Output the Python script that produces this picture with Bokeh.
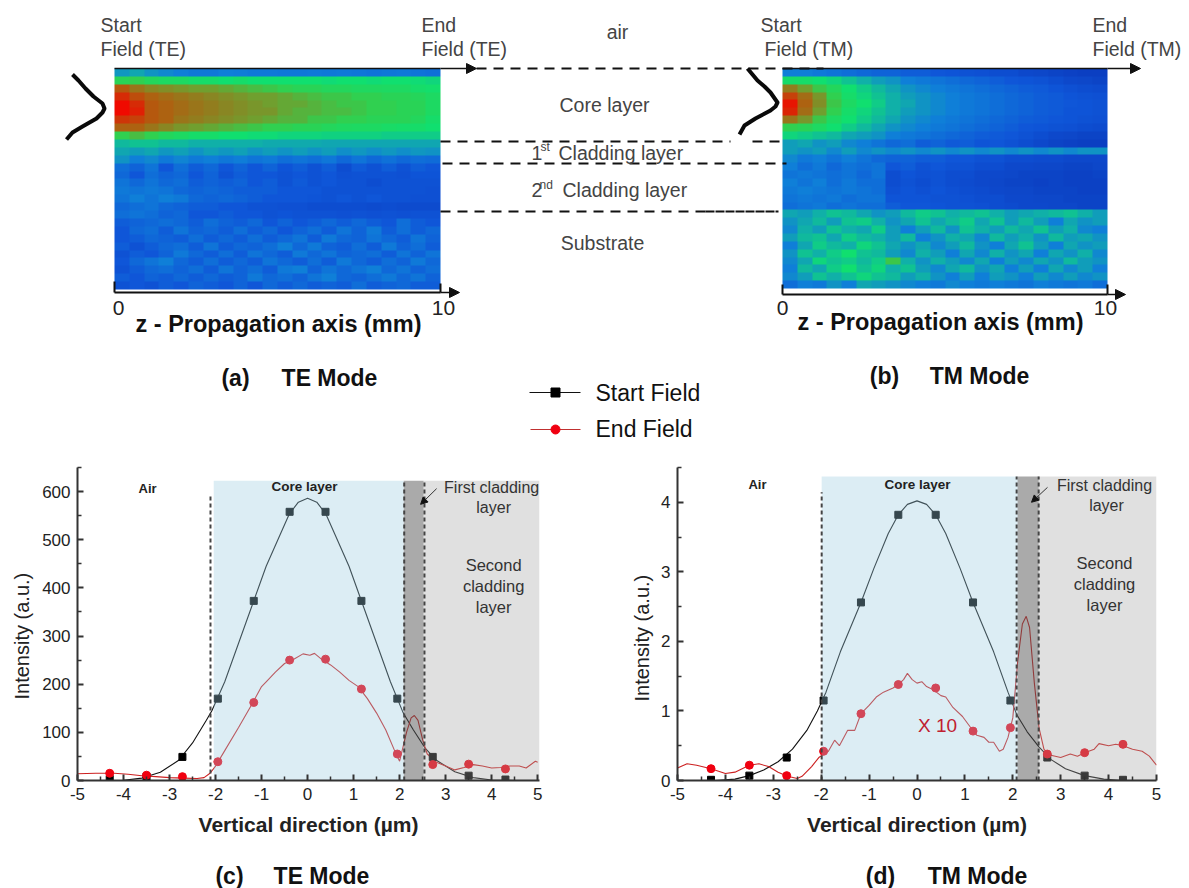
import numpy as np
from bokeh.plotting import figure
from bokeh.layouts import column, row
from bokeh.embed import file_html
from bokeh.resources import INLINE
from bokeh.models import (Range1d, FixedTicker, Label, Arrow, NormalHead, LinearColorMapper, Title)
from bokeh.core.properties import value

FONT = "Liberation Sans"

# ---------- data ----------
marker_x = [-4.3, -3.5, -2.72, -1.95, -1.17, -0.39, 0.39, 1.17, 1.95, 2.72, 3.5, 4.3]

te_start_marks = [3, 8, 49, 170, 373, 558, 558, 373, 170, 49, 10, 2]
te_end_marks = [15, 11, 8, 39, 162, 250, 252, 190, 55, 33, 34, 24]
tm_start_marks = [0.01, 0.07, 0.33, 1.15, 2.56, 3.82, 3.82, 2.56, 1.15, 0.33, 0.07, 0.01]
tm_end_marks = [0.17, 0.22, 0.07, 0.42, 0.96, 1.38, 1.33, 0.71, 0.76, 0.38, 0.40, 0.52]

te_start_x = [-4.4, -4.0, -3.6, -3.2, -2.8, -2.5, -2.2, -2.08, -1.8, -1.5, -1.2, -0.9, -0.6, -0.4, -0.2, 0, 0.2, 0.4, 0.6, 0.9, 1.2, 1.5, 1.8, 2.08, 2.3, 2.55, 2.8, 3.2, 3.6, 4.0, 4.5]
te_start_y = [0, 0.5, 5, 17, 42, 78, 125, 145, 205, 285, 365, 445, 510, 553, 578, 586, 578, 553, 510, 445, 365, 285, 205, 140, 105, 68, 42, 18, 6, 1, 0]

te_end_x = [-5, -4.6, -4.2, -3.9, -3.6, -3.3, -3, -2.7, -2.4, -2.25, -2.12, -2.0, -1.8, -1.5, -1.2, -1.0, -0.9, -0.7, -0.5, -0.3, -0.1, 0.05, 0.15, 0.3, 0.5, 0.7, 0.9, 1.1, 1.3, 1.5, 1.7, 1.9, 2.0, 2.15, 2.25, 2.32, 2.4, 2.5, 2.6, 2.8, 3.0, 3.2, 3.4, 3.6, 3.8, 4.0, 4.2, 4.4, 4.6, 4.75, 4.95, 5.0]
te_end_y = [14, 15, 15, 13, 10, 8, 6, 5, 4, 6, 15, 30, 62, 110, 160, 195, 205, 225, 243, 252, 263, 260, 264, 252, 240, 225, 208, 195, 170, 140, 105, 60, 40, 100, 130, 135, 125, 85, 55, 38, 30, 22, 27, 33, 30, 26, 27, 30, 30, 26, 40, 38]

tm_start_x = [-4.2, -3.8, -3.5, -3.2, -2.9, -2.6, -2.3, -2.08, -1.9, -1.6, -1.17, -0.9, -0.6, -0.39, -0.2, 0, 0.2, 0.39, 0.6, 0.9, 1.17, 1.6, 1.9, 2.08, 2.3, 2.55, 2.8, 3.1, 3.5, 3.9, 4.3, 5.0]
tm_start_y = [0, 0.02, 0.07, 0.15, 0.27, 0.45, 0.72, 1.0, 1.27, 1.85, 2.56, 3.05, 3.55, 3.82, 3.97, 4.02, 3.97, 3.82, 3.55, 3.05, 2.56, 1.85, 1.27, 0.95, 0.7, 0.48, 0.3, 0.17, 0.07, 0.02, 0, 0]

tm_end_x = [-5, -4.8, -4.6, -4.3, -4.0, -3.8, -3.5, -3.3, -3.1, -2.9, -2.7, -2.5, -2.4, -2.2, -2.05, -1.85, -1.72, -1.62, -1.45, -1.3, -1.17, -1.0, -0.85, -0.7, -0.5, -0.39, -0.28, -0.2, -0.1, 0, 0.1, 0.2, 0.35, 0.5, 0.6, 0.75, 0.95, 1.1, 1.25, 1.4, 1.5, 1.6, 1.72, 1.8, 1.9, 2.0, 2.1, 2.2, 2.28, 2.35, 2.45, 2.55, 2.65, 2.75, 3.0, 3.2, 3.35, 3.5, 3.7, 3.8, 4.0, 4.15, 4.3, 4.5, 4.7, 4.85, 5.0]
tm_end_y = [0.18, 0.24, 0.22, 0.17, 0.10, 0.12, 0.22, 0.24, 0.20, 0.12, 0.06, 0.03, 0.06, 0.20, 0.33, 0.42, 0.58, 0.50, 0.72, 0.72, 0.96, 1.08, 1.20, 1.27, 1.33, 1.38, 1.45, 1.54, 1.45, 1.40, 1.42, 1.35, 1.30, 1.22, 1.20, 1.05, 0.92, 0.78, 0.65, 0.62, 0.55, 0.55, 0.42, 0.45, 0.62, 0.90, 1.70, 2.25, 2.36, 2.20, 1.40, 0.75, 0.45, 0.37, 0.33, 0.38, 0.35, 0.40, 0.45, 0.53, 0.50, 0.52, 0.50, 0.45, 0.42, 0.35, 0.22]

x_ticks = [-5, -4, -3, -2, -1, 0, 1, 2, 3, 4, 5]
x_minor = [-4.5, -3.5, -2.5, -1.5, -0.5, 0.5, 1.5, 2.5, 3.5, 4.5]
te_y_ticks = [0, 100, 200, 300, 400, 500, 600]
te_y_minor = [50, 150, 250, 350, 450, 550, 650]
tm_y_ticks = [0, 1, 2, 3, 4]
tm_y_minor = [0.5, 1.5, 2.5, 3.5, 4.5]

te_field = [
 [35,38,34,32,30,28,28,30,29,28,28,27,27,28,27,28,27,26,27,28,26,25],
 [58,60,56,54,54,52,52,50,52,50,50,50,50,50,49,50,50,49,50,50,49,48],
 [86,80,76,74,72,70,70,68,66,64,62,60,58,58,56,56,55,55,54,54,52,51],
 [94,88,84,82,80,78,76,74,72,70,70,68,66,64,62,62,60,60,58,58,57,54],
 [100,94,86,84,82,80,78,76,74,72,70,68,68,66,64,62,62,60,60,58,58,54],
 [100,96,86,84,82,80,78,76,74,72,72,68,66,66,64,64,62,60,60,58,58,54],
 [92,90,86,84,80,78,76,74,72,70,68,66,66,62,62,60,60,58,58,58,56,52],
 [84,84,80,76,72,70,68,66,64,62,60,60,58,58,56,55,54,54,53,52,52,50],
 [60,64,60,56,54,52,52,50,50,49,49,48,48,48,47,47,47,47,46,46,46,46],
 [42,44,44,42,42,40,40,40,40,40,39,39,39,39,38,38,38,38,38,38,38,38],
 [38,36,38,35,37,34,37,35,37,34,36,34,36,34,36,33,35,33,35,33,35,34],
 [34,30,32,28,31,28,30,27,29,26,28,24,26,24,27,22,26,22,25,22,24,23],
 [24,20,26,16,24,18,22,16,20,16,20,15,18,14,18,12,17,14,18,14,18,16],
 [22,16,24,20,22,16,20,14,18,16,16,14,16,14,16,13,14,14,14,13,15,15],
 [26,22,26,22,24,18,20,18,20,16,18,14,17,14,16,14,14,12,14,14,14,14],
 [28,26,28,26,22,20,22,20,18,18,18,16,16,16,14,14,14,14,14,14,14,13],
 [26,30,26,30,28,22,20,22,20,18,16,16,16,15,14,16,14,16,14,14,13,13],
 [22,24,26,22,20,18,18,16,16,14,14,13,13,12,12,12,12,11,12,11,11,11],
 [24,26,24,20,22,16,16,18,16,16,14,15,14,14,14,13,14,13,14,13,14,14],
 [18,20,22,24,22,18,24,20,18,22,16,20,16,18,22,18,22,18,16,24,18,16],
 [16,22,24,18,26,20,22,18,24,18,22,16,20,24,18,26,20,28,18,24,18,22],
 [16,18,22,20,18,24,18,22,18,24,18,22,26,18,28,22,20,26,22,18,26,20],
 [18,14,18,22,24,18,26,18,22,20,24,30,22,28,20,18,24,18,28,20,24,18],
 [14,18,16,20,28,22,18,24,18,26,22,18,28,22,26,20,22,24,18,26,20,26],
 [16,22,26,30,22,18,24,18,22,18,26,22,18,24,18,28,22,18,24,20,28,22],
 [14,18,22,24,20,24,18,26,20,24,18,28,30,20,26,22,26,30,22,26,20,24],
 [18,16,20,18,22,18,22,18,20,28,22,24,20,26,30,22,20,24,28,22,26,20],
 [14,16,14,18,16,20,18,16,20,16,22,18,22,18,20,18,24,18,20,22,18,18],
]

tm_field = [
 [30,30,28,26,24,22,20,20,18,18,16,15,14,13,12,12,10,9,8,7,6,6],
 [52,52,50,48,44,40,36,34,30,28,26,24,22,20,18,16,15,14,12,10,9,8],
 [78,70,62,56,50,46,42,38,34,32,30,28,26,24,22,20,18,17,15,13,12,11],
 [90,82,72,60,52,48,44,40,36,34,32,30,28,26,24,22,20,18,17,15,14,13],
 [98,84,74,62,54,50,46,40,38,34,32,30,28,26,24,22,20,18,17,16,15,14],
 [95,82,70,60,52,48,44,40,36,34,32,30,28,26,24,22,20,18,17,15,15,14],
 [80,72,62,54,50,46,42,38,34,32,30,28,26,24,22,20,18,17,16,15,14,13],
 [60,58,54,50,46,42,38,34,32,30,28,26,24,22,20,18,16,15,14,13,12,11],
 [48,46,44,42,38,36,34,30,28,26,24,22,20,18,17,16,14,12,10,9,8,8],
 [36,38,34,36,32,30,26,22,24,18,20,17,18,15,16,14,12,10,8,7,6,6],
 [36,34,36,32,36,32,34,32,34,32,34,32,34,32,34,32,34,32,34,32,34,34],
 [32,28,30,26,30,26,22,20,20,18,18,16,16,14,14,12,12,11,11,10,10,10],
 [30,24,28,22,26,24,26,16,18,14,16,14,14,12,12,10,10,9,9,8,8,9],
 [26,28,26,24,26,22,26,12,15,13,14,12,12,10,10,9,8,8,8,7,7,8],
 [30,26,30,24,28,24,24,12,14,12,14,12,11,10,9,8,8,7,8,7,7,7],
 [28,30,28,26,28,26,24,13,15,13,15,13,12,11,10,9,9,8,8,8,7,7],
 [26,28,26,28,24,26,26,15,15,15,14,14,13,12,12,10,10,9,9,8,8,8],
 [24,26,28,24,26,24,24,18,16,16,15,14,14,13,12,11,10,10,9,9,8,8],
 [38,36,40,44,42,38,34,36,42,46,44,40,42,44,40,36,38,40,42,44,40,36],
 [34,38,42,36,44,46,40,34,38,44,38,42,46,38,44,36,42,36,30,38,34,36],
 [32,40,36,44,40,38,46,36,30,36,42,34,44,40,36,42,38,44,36,40,32,30],
 [36,42,44,38,46,42,40,36,42,30,34,40,38,32,42,36,40,34,42,36,38,34],
 [30,38,46,42,40,48,44,38,34,38,32,36,42,34,30,38,44,36,30,38,34,36],
 [34,44,40,46,50,44,42,36,32,40,36,30,38,32,40,34,38,30,38,34,40,32],
 [32,38,48,44,46,42,46,62,40,34,40,36,32,38,30,36,32,38,34,42,36,34],
 [30,42,38,46,50,44,48,40,44,36,32,38,42,34,38,30,36,30,38,32,36,30],
 [32,36,44,40,44,48,44,42,36,40,34,30,36,30,36,34,30,36,32,36,32,34],
 [24,30,28,34,30,38,36,34,32,30,28,32,30,28,30,28,26,30,28,26,28,24],
]

# ---------- colour scale ----------
stops = [0, 15, 30, 40, 50, 60, 70, 85, 100]
rgb = [(10,50,180),(15,85,216),(16,128,216),(16,176,168),(16,224,112),(48,208,80),(112,160,48),(176,96,16),(240,10,0)]
lv = np.arange(256) / 255 * 100
pal = ["#%02x%02x%02x" % tuple(int(np.interp(v, stops, [c[k] for c in rgb])) for k in range(3)) for v in lv]
mapper = LinearColorMapper(palette=pal, low=0, high=100)

# ---------- top panel: page-position coordinates ----------
TOP_B = 440
STRIP_B = 888
def Y(r):
    return TOP_B - r

top = figure(width=1189, height=440, x_range=Range1d(0, 1189), y_range=Range1d(0, 440),
             output_backend="svg", toolbar_location=None, min_border=0, outline_line_color=None)
top.axis.visible = False
top.grid.visible = False

def T(p, x, y, s, size=19.5, color="#444444", bold=False, align="left", base=TOP_B):
    p.text(x=[x], y=[base - y], text=[s], text_font=value(FONT), text_font_size=f"{size}px",
           text_color=color, text_align=align, text_baseline="middle",
           text_font_style="bold" if bold else "normal")

top.image(image=[np.array(te_field)[::-1]], x=114, y=Y(289), dw=326, dh=221, color_mapper=mapper)
top.image(image=[np.array(tm_field)[::-1]], x=782, y=Y(288), dw=325, dh=220, color_mapper=mapper)

def line(x0, y0, x1, y1, w=1.5, dash="solid"):
    top.line([x0, x1], [Y(y0), Y(y1)], line_color="#111111", line_width=w, line_dash=dash)

def arrow(x0, y0, x1, y1):
    top.add_layout(Arrow(end=NormalHead(size=10, fill_color="#111111", line_color="#111111"),
                         x_start=x0, y_start=Y(y0), x_end=x1, y_end=Y(y1),
                         line_color="#111111", line_width=1.5))

# axes drawn by hand round the field maps
line(114, 68, 440, 68)
arrow(440, 68, 476, 68)
line(782, 68, 1107, 68)
arrow(1107, 68, 1140, 68)
line(114, 292, 440, 292, 2)
line(114, 281, 114, 292, 2)
line(440, 283, 440, 292, 2)
arrow(440, 292, 459, 292)
line(782, 294, 1107, 294, 2)
line(782, 284, 782, 294, 2)
line(1107, 284, 1107, 294, 2)
arrow(1107, 294, 1125, 294)

# layer boundaries
D = "10 7"
line(476, 68, 823, 68, 2, D)
line(440, 141, 730, 141, 2, D)
line(752, 141, 782, 141, 2, D)
line(442, 163, 786, 163, 2, D)
line(440, 211, 705, 211, 2, D)
line(705, 211, 778, 211, 2, "9 1")

# launch-field sketches
bx = [72, 78, 85, 93, 102, 104, 102, 96, 82, 72, 66]
by = [74, 80, 88, 96, 103, 108, 112, 118, 126, 132, 139]
top.line(bx, [Y(v) for v in by], line_color="#0a0a0a", line_width=4, line_join="round")
bx2 = [747, 752, 757, 764, 770, 777, 775, 770, 755, 744, 739]
by2 = [68, 74, 80, 86, 92, 102, 106, 110, 118, 125, 134]
top.line(bx2, [Y(v) for v in by2], line_color="#0a0a0a", line_width=4, line_join="round")

# legend
top.line([529, 580], [Y(392), Y(392)], line_color="#111111", line_width=1.2)
top.scatter([555], [Y(392)], marker="square", size=9, fill_color="#000000", line_color="#000000")
top.line([530, 580], [Y(429), Y(429)], line_color="#c03030", line_width=1.2)
top.scatter([555], [Y(429)], marker="circle", size=9, fill_color="#f00010", line_color="#f00010")
T(top, 595, 392, "Start Field", 23, "#111111")
T(top, 595, 428, "End Field", 23, "#111111")

T(top, 100, 24, "Start")
T(top, 100, 48, "Field (TE)")
T(top, 421, 24, "End")
T(top, 421, 48, "Field (TE)")
T(top, 760, 24, "Start")
T(top, 764, 48, "Field (TM)")
T(top, 1092, 24, "End")
T(top, 1092, 48, "Field (TM)")
T(top, 617, 31, "air", align="center")
T(top, 604, 104, "Core layer", align="center")
T(top, 531, 152, "1")
T(top, 540, 146, "st", 12)
T(top, 558, 152, "Cladding layer")
T(top, 531, 189, "2")
T(top, 539, 184, "nd", 12)
T(top, 562, 189, "Cladding layer")
T(top, 602, 242, "Substrate", align="center")
T(top, 118, 307, "0", 21, "#222222", align="center")
T(top, 443, 307, "10", 21, "#222222", align="center")
T(top, 782, 307, "0", 21, "#222222", align="center")
T(top, 1105, 307, "10", 21, "#222222", align="center")
T(top, 278, 323, "z - Propagation axis (mm)", 23.5, "#111111", True, "center")
T(top, 940, 321, "z - Propagation axis (mm)", 23.5, "#111111", True, "center")
T(top, 235, 377, "(a)", 23, "#111111", True, "center")
T(top, 329, 377, "TE Mode", 23, "#111111", True, "center")
T(top, 884, 375, "(b)", 23, "#111111", True, "center")
T(top, 979, 375, "TM Mode", 23, "#111111", True, "center")

# ---------- lower panels ----------
def panel(width, left, right, top_b, bottom, xr, yr, yticks, yminor, yl_offset, yl_standoff,
          sx, sy, start, end, start_m, end_m, blue, dark, light, shade_top,
          dash_xs, air, core, first, second, arr):
    xf, yf = sx, sy
    p = figure(width=width, height=408, x_range=Range1d(*xr), y_range=Range1d(*yr),
               output_backend="svg", toolbar_location=None, outline_line_color=None,
               min_border_left=left, min_border_right=right, min_border_top=top_b, min_border_bottom=bottom)
    p.grid.visible = False
    ax = p.xaxis[0]
    ax.ticker = FixedTicker(ticks=x_ticks, minor_ticks=x_minor)
    ax.major_label_overrides = {t: str(t) for t in x_ticks}
    ax.axis_label = "Vertical direction (µm)"
    ax.axis_label_text_font = FONT
    ax.axis_label_text_font_size = "21px"
    ax.axis_label_text_font_style = "bold"
    ax.axis_label_text_color = "#222222"
    ax.axis_label_standoff = 10
    ay = p.yaxis[0]
    ay.ticker = FixedTicker(ticks=yticks, minor_ticks=yminor)
    for a in (ax, ay):
        a.axis_line_color = "#333333"
        a.axis_line_width = 2
        a.major_tick_line_color = "#333333"
        a.major_tick_line_width = 2
        a.minor_tick_line_color = "#333333"
        a.minor_tick_line_width = 1.5
        a.major_tick_in = 6
        a.major_tick_out = 0
        a.minor_tick_in = 4
        a.minor_tick_out = 0
        a.major_label_text_font = FONT
        a.major_label_text_font_size = "17px"
        a.major_label_text_color = "#222222"
        a.major_label_standoff = 7
    p.add_layout(Title(text="Intensity (a.u.)", align="left", offset=yl_offset, standoff=yl_standoff,
                       text_font=FONT, text_font_size="20px", text_font_style="normal",
                       text_color="#222222"), "left")

    p.line(start[0], start[1], line_color="#111111", line_width=1.1)
    p.line(end[0], end[1], line_color="#cc2020", line_width=1.1)
    p.scatter(marker_x, start_m, marker="square", size=7, fill_color="#000000", line_color="#000000")
    p.scatter(marker_x, end_m, marker="circle", size=8, fill_color="#f00010", line_color="#f00010")

    p.quad(left=[blue[0]], right=[blue[1]], bottom=[yr[0]], top=[shade_top],
           fill_color="#9bcce0", fill_alpha=0.35, line_color=None)
    p.quad(left=[dark[0]], right=[dark[1]], bottom=[yr[0]], top=[shade_top],
           fill_color="#555555", fill_alpha=0.5, line_color=None)
    p.quad(left=[light[0]], right=[light[1]], bottom=[yr[0]], top=[shade_top],
           fill_color="#a6a6a6", fill_alpha=0.35, line_color=None)
    for x_, t_ in dash_xs:
        p.line([x_, x_], [yr[0], t_], line_color="#444444", line_width=2, line_dash="4 3")

    def L(px, py, s, size, bold=False, color="#222222"):
        p.add_layout(Label(x=xf(px), y=yf(py), text=s, text_font=FONT, text_font_size=f"{size}px",
                           text_color=color, text_align="center", text_baseline="middle",
                           text_font_style="bold" if bold else "normal"))

    L(air[0], air[1], "Air", 13, True)
    L(core[0], core[1], "Core layer", 13.5, True)
    L(first[0], first[1], "First cladding", 16, color="#333333")
    L(first[0] + 2, first[1] + 20, "layer", 16, color="#333333")
    for k, s in enumerate(["Second", "cladding", "layer"]):
        L(second[0], second[1] + 21 * k, s, 16.5, color="#333333")
    p.add_layout(Arrow(end=NormalHead(size=7, fill_color="#111111", line_color="#111111"),
                       x_start=xf(arr[0]), y_start=yf(arr[1]), x_end=xf(arr[2]), y_end=yf(arr[3]),
                       line_color="#333333", line_width=1))
    return p, L

c_x = lambda px: (px - 77) / 46 - 5
c_y = lambda py: (780 - py) / 0.49
d_x = lambda px: (px - 677) / 47.9 - 5
d_y = lambda py: (782 - py) / 70

c, _ = panel(590, 77, 51, 22, 68, (-5, 5.04), (0, 650), te_y_ticks, te_y_minor, 81, 13,
             c_x, c_y, (te_start_x, te_start_y), (te_end_x, te_end_y), te_start_marks, te_end_marks,
             (-2.04, 2.09), (2.09, 2.52), (2.52, 5.04), c_y(475),
             [(-2.11, c_y(490)), (2.1, c_y(475)), (2.54, c_y(475))],
             (147, 483), (304, 481), (491, 482), (493, 561), (436, 483, 420, 499))

d, Ld = panel(599, 87, 33, 27, 66, (-5, 5), (0, 4.5), tm_y_ticks, tm_y_minor, 79, 11,
              d_x, d_y, (tm_start_x, tm_start_y), (tm_end_x, tm_end_y), tm_start_marks, tm_end_marks,
              (-1.99, 2.1), (2.1, 2.54), (2.54, 5.0), d_y(476),
              [(-1.99, d_y(492)), (2.08, d_y(476)), (2.54, d_y(476))],
              (757, 484), (917, 484), (1104, 485), (1104, 563), (1047, 487, 1031, 502))
Ld(937, 727, "X 10", 19, color="#c02030")

# ---------- caption strip ----------
strip = figure(width=1189, height=40, x_range=Range1d(0, 1189), y_range=Range1d(0, 40),
               output_backend="svg", toolbar_location=None, min_border=0, outline_line_color=None)
strip.axis.visible = False
strip.grid.visible = False
T(strip, 229, 875, "(c)", 23, "#111111", True, "center", STRIP_B)
T(strip, 321, 875, "TE Mode", 23, "#111111", True, "center", STRIP_B)
T(strip, 880, 875, "(d)", 23, "#111111", True, "center", STRIP_B)
T(strip, 977, 875, "TM Mode", 23, "#111111", True, "center", STRIP_B)

layout = column(top, row(c, d), strip)
open("out.html", "w").write(file_html(layout, INLINE))
